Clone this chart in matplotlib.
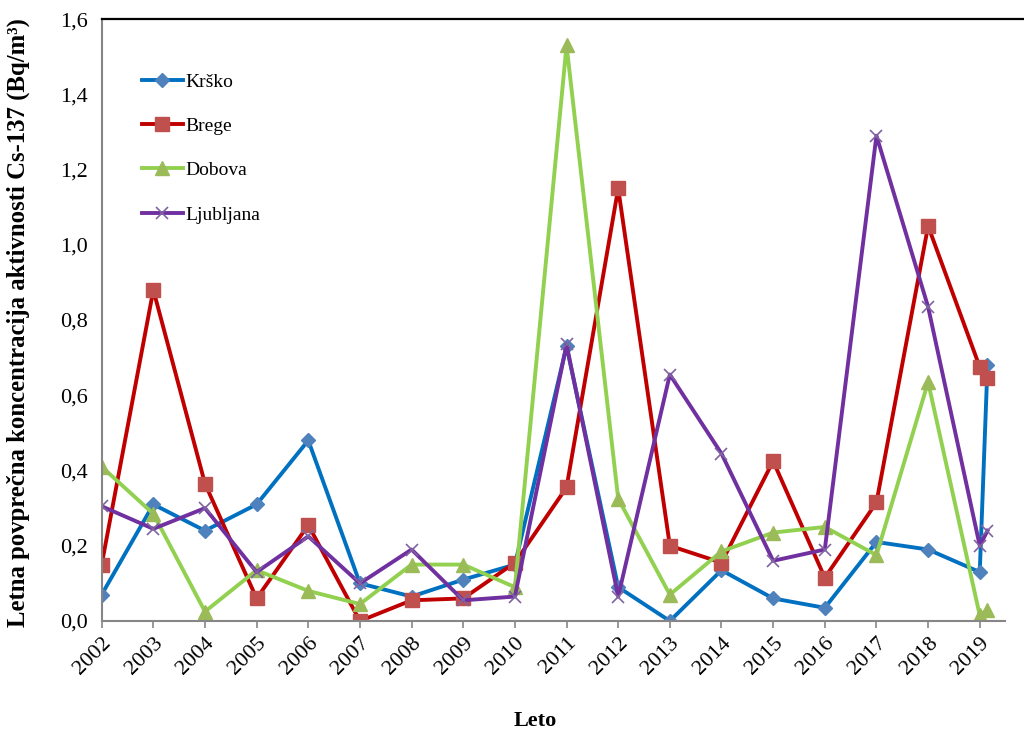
import matplotlib.pyplot as plt
from matplotlib.lines import Line2D

plt.rcParams['font.family'] = ['Liberation Serif', 'DejaVu Serif']

# x values: one point per year, plus a last extra reading just after 2019
years = list(range(2002, 2020)) + [2019.15]
tick_years = list(range(2002, 2020))

krsko = [0.07, 0.31, 0.24, 0.31, 0.48, 0.10, 0.065, 0.11, 0.15, 0.73, 0.09, 0.0,
         0.135, 0.06, 0.035, 0.21, 0.19, 0.13, 0.68]
brege = [0.15, 0.88, 0.365, 0.06, 0.255, 0.0, 0.055, 0.06, 0.155, 0.355, 1.15, 0.20,
         0.155, 0.425, 0.115, 0.315, 1.05, 0.675, 0.645]
dobova = [0.41, 0.285, 0.025, 0.135, 0.08, 0.045, 0.15, 0.15, 0.09, 1.53, 0.325, 0.07,
          0.185, 0.235, 0.25, 0.175, 0.635, 0.015, 0.03]
ljubljana = [0.305, 0.245, 0.30, 0.13, 0.225, 0.10, 0.19, 0.055, 0.065, 0.735, 0.065, 0.655,
             0.445, 0.16, 0.19, 1.29, 0.835, 0.20, 0.24]

fig = plt.figure(figsize=(10.24, 7.33), dpi=100)
ax = fig.add_axes([0.0993, 0.1528, 0.8817, 0.8212])

lw = 2.8
ax.plot(years, krsko, color='#0070C0', lw=lw, marker='D', ms=7.5,
        mfc='#4F81BD', mec='#4F81BD', label='Krško')
ax.plot(years, brege, color='#C00000', lw=lw, marker='s', ms=9.5,
        mfc='#C0504D', mec='#C0504D', label='Brege')
ax.plot(years, dobova, color='#92D050', lw=lw, marker='^', ms=9.5,
        mfc='#9BBB59', mec='#9BBB59', label='Dobova')
ax.plot(years, ljubljana, color='#7030A0', lw=lw, marker='x', ms=9,
        mew=1.2, mec='#8064A2', label='Ljubljana')

ax.set_xlim(2002, 2019.48)
ax.set_ylim(0, 1.6)
ax.set_xticks(tick_years)
ax.set_xticklabels([str(y) for y in tick_years], rotation=45, ha='right',
                   rotation_mode='anchor', fontsize=16)
yt = [i * 0.2 for i in range(9)]
ax.set_yticks(yt)
ax.set_yticklabels([f'{v:.1f}'.replace('.', ',') for v in yt], fontsize=16)

ax.spines['right'].set_visible(False)
ax.spines['top'].set_visible(False)
ax.spines['left'].set_color('#868686')
ax.spines['bottom'].set_color('#868686')
ax.spines['left'].set_linewidth(1.5)
ax.spines['bottom'].set_linewidth(1.5)
ax.tick_params(axis='x', length=5, width=1.2, color='#868686', pad=4)
ax.tick_params(axis='y', length=0, pad=10)

# top border line of the chart
fig.add_artist(Line2D([0.0993, 1.0], [0.974, 0.974], color='black', lw=1.6,
                      transform=fig.transFigure))

fig.text(535 / 1024, 1 - 721 / 733, 'Leto', fontsize=16, fontweight='bold',
         ha='center', va='center')
fig.text(18 / 1024, 1 - 323 / 733,
         'Letna povprečna koncentracija aktivnosti Cs-137 (Bq/m³)',
         fontsize=17.8, fontweight='bold', rotation=90, ha='center', va='center')

leg = ax.legend(loc='upper left', bbox_to_anchor=(0.036, 0.923), frameon=False,
                fontsize=14, handlelength=2.1, handletextpad=0.15, labelspacing=1.37,
                borderaxespad=0)

fig.savefig('out.png', dpi=100)
